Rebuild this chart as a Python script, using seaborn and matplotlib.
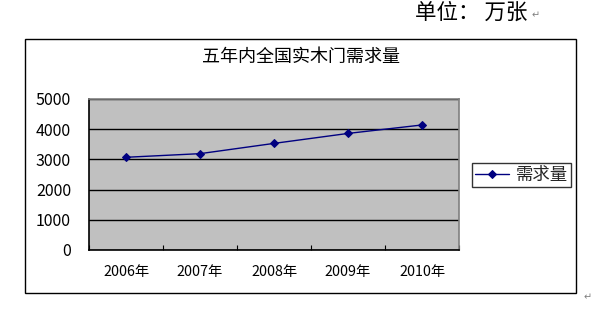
import matplotlib
matplotlib.use("Agg")
import matplotlib.pyplot as plt
import seaborn as sns
import pandas as pd
from matplotlib.patches import Rectangle

years = ["2006年", "2007年", "2008年", "2009年", "2010年"]
demand = [3070, 3190, 3530, 3860, 4140]
yticks = [0, 1000, 2000, 3000, 4000, 5000]
title = "五年内全国实木门需求量"
series_name = "需求量"
unit_text = "单位： 万张"

sns.set_theme(style="white")
plt.rcParams['font.family'] = ['Noto Sans CJK SC', 'DejaVu Sans']

W, H = 612, 319
fig = plt.figure(figsize=(W / 100, H / 100), dpi=100)

# outer chart frame
fig.patches.append(Rectangle((25 / W, 1 - 293 / H), (576 - 25) / W, (293 - 39) / H,
                             transform=fig.transFigure, fill=False,
                             edgecolor="black", linewidth=1.0))

ax = fig.add_axes([89 / W, 1 - 250 / H, (459 - 89) / W, (250 - 99) / H])
ax.set_facecolor("#c0c0c0")

df = pd.DataFrame({"year": years, series_name: demand})
sns.lineplot(data=df, x="year", y=series_name, ax=ax, sort=False,
             color="#000080", linewidth=1.0, marker="D", markersize=4.5,
             markeredgecolor="#000080", label=series_name)

ax.set_xlim(-0.5, len(years) - 0.5)
ax.set_ylim(0, 5000)
ax.set_yticks(yticks)
ax.set_yticklabels([str(v) for v in yticks], fontsize=11.5, color="black")
ax.set_xticks(range(len(years)))
ax.set_xticklabels(years, fontsize=10.3, color="black")
ax.set_xticks([i - 0.5 for i in range(len(years) + 1)], minor=True)
ax.tick_params(axis="x", which="major", length=0, pad=11)
ax.tick_params(axis="x", which="minor", direction="in", length=3.5, width=0.8, color="black", bottom=True)
ax.tick_params(axis="y", length=0, pad=13)
ax.grid(axis="y", color="black", linewidth=1.0)
ax.set_axisbelow(True)
ax.set_xlabel("")
ax.set_ylabel("")

for side in ["left", "bottom"]:
    ax.spines[side].set_color("black")
    ax.spines[side].set_linewidth(1.2)
for side in ["top", "right"]:
    ax.spines[side].set_color("#808080")
    ax.spines[side].set_linewidth(1.2)
    ax.spines[side].set_visible(True)

leg = ax.legend(loc="center left", bbox_to_anchor=(472 / W, 1 - 175 / H),
                bbox_transform=fig.transFigure, frameon=True, fancybox=False,
                fontsize=12.5, handlelength=2.0, borderpad=0.15, handletextpad=0.4,
                borderaxespad=0)
leg.get_frame().set_edgecolor("black")
leg.get_frame().set_linewidth(1.0)

fig.text(301 / W, 1 - 57 / H, title, ha="center", va="center", fontsize=13, color="black")
fig.text(471 / W, 1 - 13 / H, unit_text, ha="center", va="center", fontsize=15.5, color="black")
fig.text(536 / W, 1 - 15 / H, "↵", ha="center", va="center", fontsize=7, color="#808080",
         family=['DejaVu Sans'])
fig.text(588 / W, 1 - 297 / H, "↵", ha="center", va="center", fontsize=7, color="#808080",
         family=['DejaVu Sans'])

fig.savefig("out.png", dpi=100)
